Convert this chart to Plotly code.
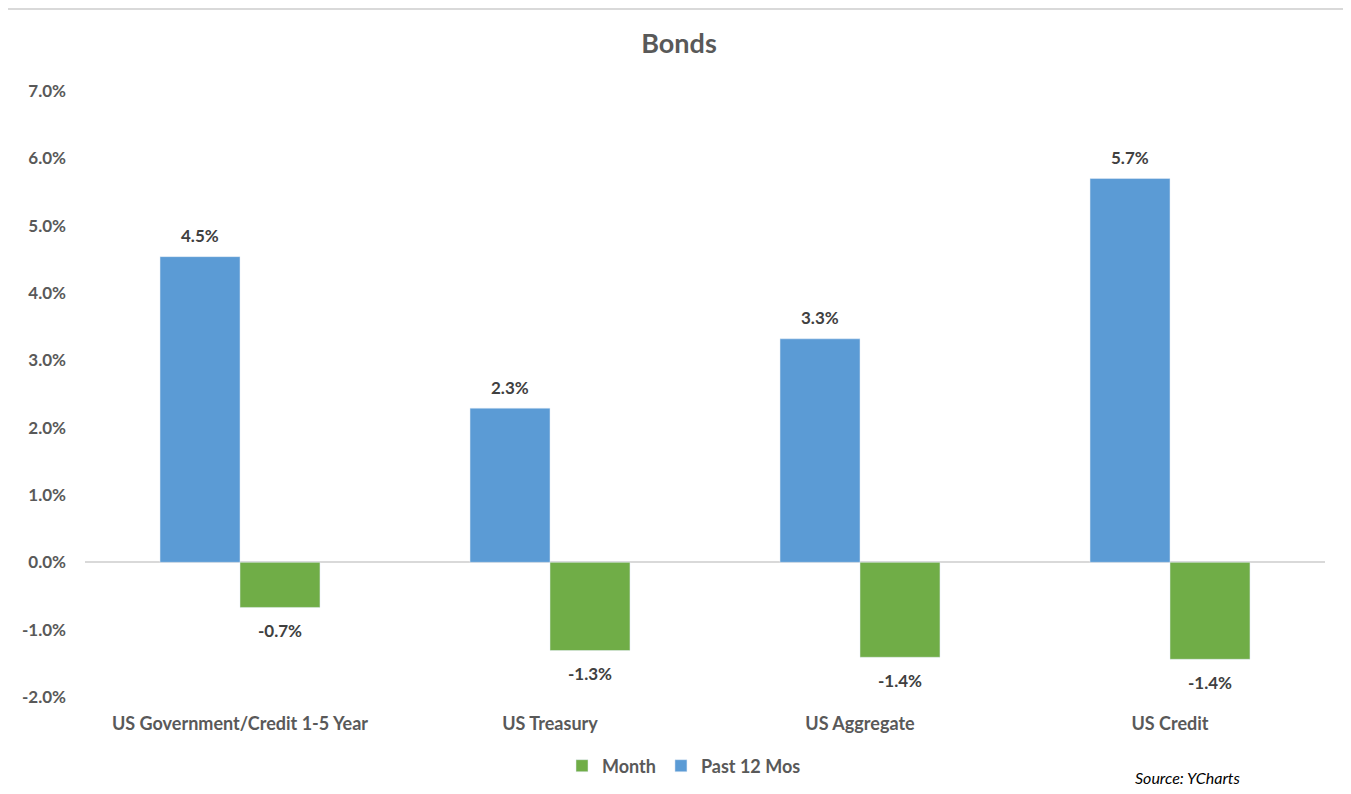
import plotly.graph_objects as go

categories = ["US Government/Credit 1-5 Year", "US Treasury", "US Aggregate", "US Credit"]
past_12_mos = [4.54, 2.29, 3.32, 5.70]
month = [-0.67, -1.31, -1.41, -1.44]
tick_vals = [-2, -1, 0, 1, 2, 3, 4, 5, 6, 7]
tick_text = ["-2.0%", "-1.0%", "0.0%", "1.0%", "2.0%", "3.0%", "4.0%", "5.0%", "6.0%", "7.0%"]

BLUE = "#5B9BD5"
GREEN = "#70AD47"
TXT = "#595959"
FONT = "Lato"

# page body has an 8px offset; plot area spans screen x 85..1325, y 91..697
W, H = 1343, 786
L, R, T, B = 77, 26, 83, 97
PW, PH = 1240, 606


def px(x):
    return (x - 85) / PW


def py(y):
    return (697 - y) / PH


def cy(y):
    return 1 - (y - 8) / H


fig = go.Figure()
fig.add_trace(go.Bar(name="Past 12 Mos", x=categories, y=past_12_mos, marker_color=BLUE))
fig.add_trace(go.Bar(name="Month", x=categories, y=month, marker_color=GREEN))

lab_font = dict(family=FONT, size=17, color="#404040", weight="bold")
ann = []
for c, v in zip(categories, past_12_mos):
    ann.append(dict(x=c, y=v, text=f"{v:.1f}%", showarrow=False, xshift=-40, yshift=21,
                    yanchor="middle", font=lab_font))
for c, v in zip(categories, month):
    ann.append(dict(x=c, y=v, text=f"{v:.1f}%", showarrow=False, xshift=40, yshift=-23,
                    yanchor="middle", font=lab_font))
ann.append(dict(xref="paper", yref="paper", x=px(1188), y=py(777),
                text="<i>Source: YCharts</i>", showarrow=False, xanchor="center", yanchor="middle",
                font=dict(family=FONT, size=16, color="#000000")))

fig.update_layout(
    width=W, height=H,
    margin=dict(l=L, r=R, t=T, b=B, autoexpand=False),
    paper_bgcolor="white", plot_bgcolor="white",
    barmode="group", bargap=0.484, bargroupgap=0,
    title=dict(text="<b>Bonds</b>", x=px(679), xanchor="center", xref="paper", y=cy(44),
               yanchor="middle", font=dict(family=FONT, size=27, color=TXT)),
    font=dict(family=FONT, color=TXT),
    showlegend=True,
    legend=dict(orientation="h", x=px(684), xanchor="center", yref="container", y=cy(766),
                yanchor="middle", traceorder="reversed", itemwidth=30,
                font=dict(family=FONT, size=18, color=TXT, weight="bold")),
    annotations=ann,
    shapes=[dict(type="rect", xref="paper", yref="paper",
                 x0=px(7), x1=px(1348), y0=py(820), y1=py(9),
                 line=dict(color="#D9D9D9", width=2), fillcolor="rgba(0,0,0,0)", layer="below")],
)
fig.update_xaxes(showgrid=False, showline=False, zeroline=False, ticks="", automargin=False,
                 ticklabelstandoff=14,
                 tickfont=dict(family=FONT, size=18, color=TXT, weight="bold"))
fig.update_yaxes(range=[-2, 7], tickvals=tick_vals, ticktext=tick_text, showgrid=False,
                 zeroline=True, zerolinecolor="#D9D9D9", zerolinewidth=2, showline=False,
                 ticks="", ticklabelstandoff=18, automargin=False,
                 tickfont=dict(family=FONT, size=17, color=TXT, weight="bold"))

fig.write_html("out.html")
